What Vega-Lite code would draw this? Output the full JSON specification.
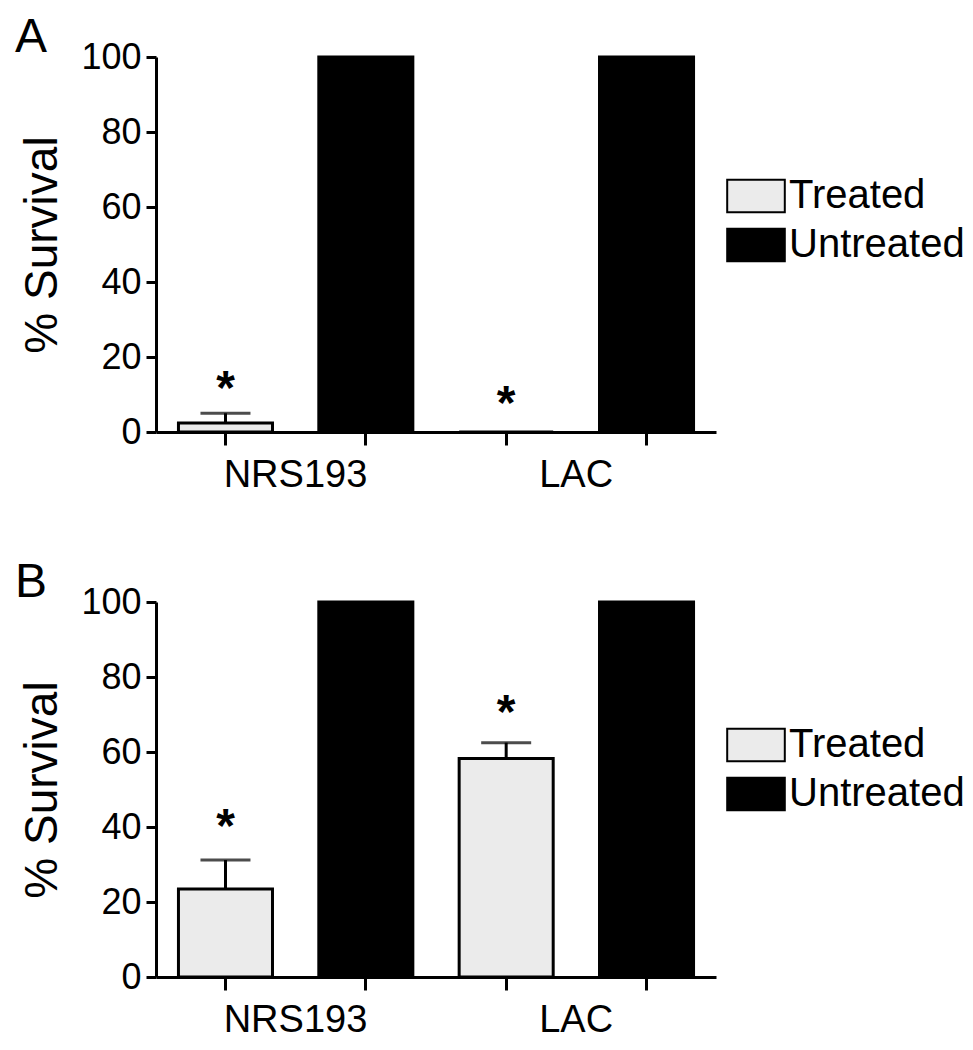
{
  "$schema": "https://vega.github.io/schema/vega-lite/v6.json",
  "padding": {"left": 15, "top": 14, "right": 5, "bottom": 0},
  "background": "white",
  "config": {
    "font": "Liberation Sans",
    "view": {"stroke": null},
    "axis": {"grid": false, "domainColor": "black", "domainWidth": 3, "tickColor": "black", "tickWidth": 3, "labelColor": "black", "titleColor": "black", "labelFont": "Liberation Sans", "titleFont": "Liberation Sans"},
    "legend": {"labelFont": "Liberation Sans", "labelColor": "black"},
    "title": {"font": "Liberation Sans", "color": "black"}
  },
  "datasets": {
    "d": [
      {"panel": "A", "key": "NRS193 Treated", "group": "Treated", "value": 2.4, "upper": 5, "star": 13},
      {"panel": "A", "key": "NRS193 Untreated", "group": "Untreated", "value": 100, "upper": null, "star": null},
      {"panel": "A", "key": "LAC Treated", "group": "Treated", "value": 0, "upper": null, "star": 9},
      {"panel": "A", "key": "LAC Untreated", "group": "Untreated", "value": 100, "upper": null, "star": null},
      {"panel": "B", "key": "NRS193 Treated", "group": "Treated", "value": 23.5, "upper": 31.2, "star": 41.5},
      {"panel": "B", "key": "NRS193 Untreated", "group": "Untreated", "value": 100, "upper": null, "star": null},
      {"panel": "B", "key": "LAC Treated", "group": "Treated", "value": 58.3, "upper": 62.5, "star": 72},
      {"panel": "B", "key": "LAC Untreated", "group": "Untreated", "value": 100, "upper": null, "star": null}
    ]
  },
  "spacing": 65,
  "resolve": {"scale": {"color": "independent"}, "legend": {"color": "independent"}},
  "vconcat": [
    {
      "title": {"text": "A", "anchor": "start", "frame": "group", "dx": -141, "dy": 27, "fontSize": 48, "fontWeight": "normal", "offset": 4},
      "width": 560, "height": 375,
      "data": {"name": "d"},
      "transform": [{"filter": "datum.panel == 'A'"}],
      "encoding": {
        "x": {"field": "key", "type": "nominal", "sort": ["NRS193 Treated", "NRS193 Untreated", "LAC Treated", "LAC Untreated"],
          "scale": {"paddingInner": 0.33, "paddingOuter": 0.16},
          "axis": {"title": null, "labelAngle": 0, "labelExpr": "datum.value == 'NRS193 Treated' ? 'NRS193' : datum.value == 'LAC Treated' ? 'LAC' : ''",
            "labelOffset": 70, "labelFontSize": 38, "tickSize": 13, "labelPadding": 11}}
      },
      "layer": [
        {"mark": {"type": "bar", "stroke": "black", "strokeWidth": 3},
          "encoding": {
            "y": {"field": "value", "type": "quantitative", "scale": {"domain": [0, 100]},
              "axis": {"title": "% Survival", "values": [0, 20, 40, 60, 80, 100], "tickSize": 10, "labelFontSize": 36, "labelPadding": 5, "titleFontSize": 46, "titleFontWeight": "normal", "titlePadding": 14}},
            "color": {"field": "group", "type": "nominal", "scale": {"domain": ["Treated", "Untreated"], "range": ["#ebebeb", "black"]},
              "legend": {"orient": "none", "legendX": 580, "legendY": 119, "title": null, "symbolType": "M-1.6,-0.9L1.6,-0.9L1.6,0.9L-1.6,0.9Z", "symbolSize": 1296, "symbolStrokeColor": "black", "symbolStrokeWidth": 2, "labelFontSize": 40, "labelOffset": 13, "rowPadding": 7, "padding": 0, "labelLimit": 0}}
          }},
        {"transform": [{"filter": "isValid(datum.upper)"}], "mark": {"type": "rule", "strokeWidth": 3, "color": "black"},
          "encoding": {"y": {"field": "value", "type": "quantitative", "axis": {"title": "% Survival"}}, "y2": {"field": "upper"}}},
        {"transform": [{"filter": "isValid(datum.upper)"}], "mark": {"type": "tick", "thickness": 3, "size": 50, "color": "black"},
          "encoding": {"y": {"field": "upper", "type": "quantitative", "axis": {"title": "% Survival"}}}},
        {"transform": [{"filter": "isValid(datum.star)"}], "mark": {"type": "text", "text": "*", "fontSize": 48, "fontWeight": "bold", "baseline": "middle", "dy": 7, "color": "black"},
          "encoding": {"y": {"field": "star", "type": "quantitative", "axis": {"title": "% Survival"}}}}
      ]
    },
    {
      "title": {"text": "B", "anchor": "start", "frame": "group", "dx": -141, "dy": 27, "fontSize": 48, "fontWeight": "normal", "offset": 4},
      "width": 560, "height": 375,
      "data": {"name": "d"},
      "transform": [{"filter": "datum.panel == 'B'"}],
      "encoding": {
        "x": {"field": "key", "type": "nominal", "sort": ["NRS193 Treated", "NRS193 Untreated", "LAC Treated", "LAC Untreated"],
          "scale": {"paddingInner": 0.33, "paddingOuter": 0.16},
          "axis": {"title": null, "labelAngle": 0, "labelExpr": "datum.value == 'NRS193 Treated' ? 'NRS193' : datum.value == 'LAC Treated' ? 'LAC' : ''",
            "labelOffset": 70, "labelFontSize": 38, "tickSize": 13, "labelPadding": 11}}
      },
      "layer": [
        {"mark": {"type": "bar", "stroke": "black", "strokeWidth": 3},
          "encoding": {
            "y": {"field": "value", "type": "quantitative", "scale": {"domain": [0, 100]},
              "axis": {"title": "% Survival", "values": [0, 20, 40, 60, 80, 100], "tickSize": 10, "labelFontSize": 36, "labelPadding": 5, "titleFontSize": 46, "titleFontWeight": "normal", "titlePadding": 14}},
            "color": {"field": "group", "type": "nominal", "scale": {"domain": ["Treated", "Untreated"], "range": ["#ebebeb", "black"]},
              "legend": {"orient": "none", "legendX": 580, "legendY": 123, "title": null, "symbolType": "M-1.6,-0.9L1.6,-0.9L1.6,0.9L-1.6,0.9Z", "symbolSize": 1296, "symbolStrokeColor": "black", "symbolStrokeWidth": 2, "labelFontSize": 40, "labelOffset": 13, "rowPadding": 7, "padding": 0, "labelLimit": 0}}
          }},
        {"transform": [{"filter": "isValid(datum.upper)"}], "mark": {"type": "rule", "strokeWidth": 3, "color": "black"},
          "encoding": {"y": {"field": "value", "type": "quantitative", "axis": {"title": "% Survival"}}, "y2": {"field": "upper"}}},
        {"transform": [{"filter": "isValid(datum.upper)"}], "mark": {"type": "tick", "thickness": 3, "size": 50, "color": "black"},
          "encoding": {"y": {"field": "upper", "type": "quantitative", "axis": {"title": "% Survival"}}}},
        {"transform": [{"filter": "isValid(datum.star)"}], "mark": {"type": "text", "text": "*", "fontSize": 48, "fontWeight": "bold", "baseline": "middle", "dy": 7, "color": "black"},
          "encoding": {"y": {"field": "star", "type": "quantitative", "axis": {"title": "% Survival"}}}}
      ]
    }
  ]
}
